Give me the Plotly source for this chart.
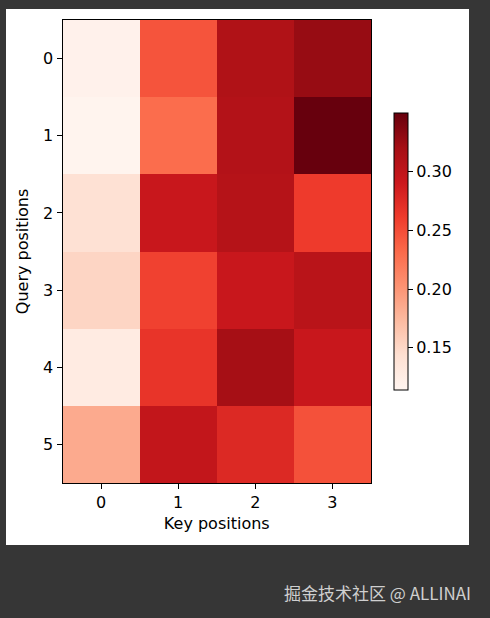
import plotly.graph_objects as go

# attention weights, rows = query positions, cols = key positions
key_pos = [0, 1, 2, 3]
query_pos = [0, 1, 2, 3, 4, 5]
row_0 = [0.119, 0.246, 0.312, 0.327]
row_1 = [0.116, 0.230, 0.310, 0.350]
row_2 = [0.142, 0.293, 0.308, 0.262]
row_3 = [0.152, 0.258, 0.293, 0.305]
row_4 = [0.128, 0.267, 0.320, 0.293]
row_5 = [0.185, 0.298, 0.277, 0.248]
weights = [row_0, row_1, row_2, row_3, row_4, row_5]
cbar_ticks = [0.15, 0.20, 0.25, 0.30]

W, H = 490, 618
BG = '#363636'

# matplotlib "Reds"
reds = [
    [0.0, '#fff5f0'], [0.125, '#fee0d2'], [0.25, '#fcbba1'],
    [0.375, '#fc9272'], [0.5, '#fb6a4a'], [0.625, '#ef3b2c'],
    [0.75, '#cb181d'], [0.875, '#a50f15'], [1.0, '#67000d'],
]

tick_font = dict(family='DejaVu Sans, sans-serif', size=16, color='black')
title_font = dict(family='DejaVu Sans, sans-serif', size=16, color='black')

fig = go.Figure(go.Heatmap(
    z=weights, x=key_pos, y=query_pos,
    colorscale=reds, zmin=0.114, zmax=0.350,
    colorbar=dict(
        x=394 / W, xanchor='left', xpad=0,
        y=1 - 390 / H, yanchor='bottom', ypad=0,
        len=(390 - 113) / H, lenmode='fraction',
        thickness=14, outlinewidth=1, outlinecolor='black',
        tickvals=cbar_ticks, tickformat='.2f',
        ticks='outside', ticklen=5, tickcolor='black',
        tickfont=tick_font,
    ),
    hovertemplate='key %{x}<br>query %{y}<br>%{z:.3f}<extra></extra>',
))

fig.add_shape(type='rect', xref='paper', yref='paper',
              x0=6 / W, x1=469 / W, y0=1 - 545 / H, y1=1 - 9 / H,
              fillcolor='white', line=dict(width=0), layer='below')

fig.add_annotation(text='掘金技术社区 @ ALLINAI', xref='paper', yref='paper',
                   x=473 / W, y=1 - 592 / H, xanchor='right', yanchor='middle',
                   showarrow=False,
                   font=dict(family='Noto Sans CJK SC, sans-serif', size=17, color='#cfcfcf'))

fig.update_layout(
    width=W, height=H,
    margin=dict(l=0, r=0, t=0, b=0),
    paper_bgcolor=BG, plot_bgcolor='white',
    font=tick_font,
    xaxis=dict(domain=[62.5 / W, 371 / W], tickvals=key_pos, tickfont=tick_font,
               ticks='outside', ticklen=5, tickcolor='black',
               showline=True, linecolor='black', linewidth=1, mirror=True,
               showgrid=False, zeroline=False,
               title=dict(text='Key positions', standoff=6, font=title_font)),
    yaxis=dict(domain=[1 - 483 / H, 1 - 20 / H], tickvals=query_pos, tickfont=tick_font,
               autorange='reversed',
               ticks='outside', ticklen=5, tickcolor='black',
               showline=True, linecolor='black', linewidth=1, mirror=True,
               showgrid=False, zeroline=False,
               title=dict(text='Query positions', standoff=10, font=title_font)),
)

# drop the default page margin so the figure sits at the window corner
fig.write_html('out.html', config={'displayModeBar': False}, post_script=(
    "document.body.style.margin='0';"
    "document.body.style.background='" + BG + "';"
))
